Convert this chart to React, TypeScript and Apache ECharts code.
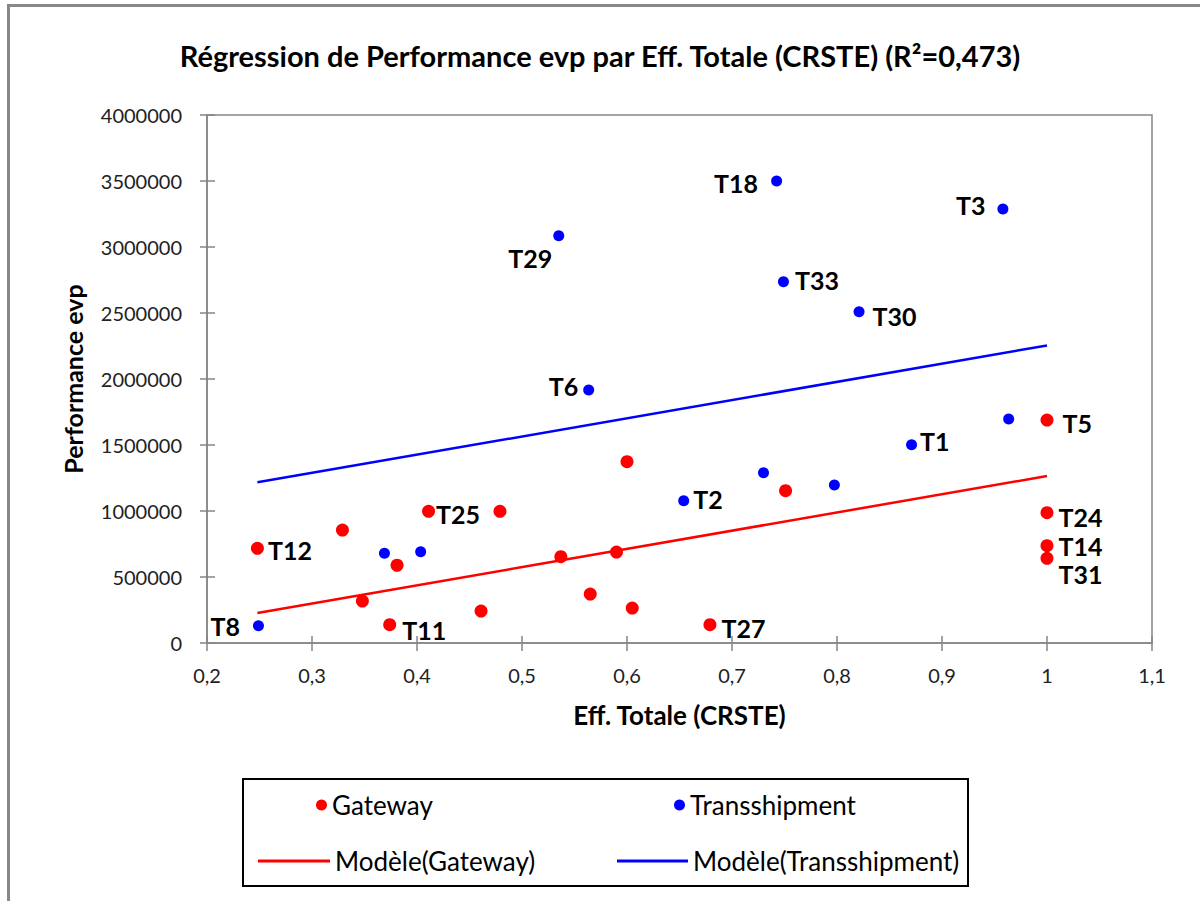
import React, { useEffect, useRef } from "react";
import * as echarts from "echarts";

// Gateway terminals: efficiency (CRSTE) and performance (evp)
const gatewayNames = ["T12", "", "", "", "T11", "T25", "", "", "", "", "", "", "", "T27", "", "T5", "T24", "T14", "T31"];
const gatewayEff = [0.248, 0.329, 0.348, 0.381, 0.374, 0.411, 0.479, 0.461, 0.537, 0.565, 0.59, 0.6, 0.605, 0.679, 0.751, 1.0, 1.0, 1.0, 1.0];
const gatewayPerf = [717000, 856000, 318000, 589000, 139000, 998000, 998000, 242000, 654000, 371000, 689000, 1374000, 265000, 139000, 1154000, 1689000, 987000, 737000, 642000];

// Transshipment terminals
const transNames = ["T8", "", "", "T6", "T29", "T18", "T3", "T33", "T30", "", "T1", "", "", "T2"];
const transEff = [0.249, 0.369, 0.4035, 0.5635, 0.535, 0.7425, 0.958, 0.749, 0.821, 0.9635, 0.871, 0.73, 0.7975, 0.654];
const transPerf = [131000, 680000, 692000, 1917000, 3086000, 3500000, 3288000, 2737000, 2510000, 1697000, 1502000, 1290000, 1197000, 1078000];

// Fitted models (endpoints of each regression line)
const modelEff = [0.248, 1.0];
const gatewayModel = [227000, 1265000];
const transModel = [1217000, 2254000];

// Axis ranges
const xMin = 0.2, xMax = 1.1, xStep = 0.1;
const yMin = 0, yMax = 4000000, yStep = 500000;

const TITLE = "Régression de Performance evp par Eff. Totale (CRSTE) (R²=0,473)";
const FONT = "Lato";

// Where each terminal label sits relative to its point
const labelPlacement: Record<string, { position: string; distance: number; offset?: number[] }> = {
  T8: { position: "left", distance: 13 },
  T12: { position: "right", distance: 4, offset: [0, 2] },
  T11: { position: "right", distance: 6, offset: [0, 5] },
  T25: { position: "right", distance: 1, offset: [0, 3] },
  T27: { position: "right", distance: 5, offset: [0, 3] },
  T29: { position: "left", distance: 1, offset: [0, 22] },
  T6: { position: "left", distance: 5, offset: [0, -4] },
  T18: { position: "left", distance: 13, offset: [0, 2] },
  T3: { position: "left", distance: 12, offset: [0, -4] },
  T33: { position: "right", distance: 6, offset: [0, -2] },
  T30: { position: "right", distance: 8, offset: [0, 4] },
  T2: { position: "right", distance: 4, offset: [0, -2] },
  T1: { position: "right", distance: 3, offset: [0, -4] },
  T5: { position: "right", distance: 9, offset: [0, 3] },
  T24: { position: "right", distance: 5, offset: [0, 4] },
  T14: { position: "right", distance: 5, offset: [0, 0] },
  T31: { position: "right", distance: 5, offset: [0, 16] },
};

function points(names: string[], xs: number[], ys: number[]) {
  return xs.map((x, i) => {
    const name = names[i];
    const place = name ? labelPlacement[name] : undefined;
    return {
      name,
      value: [x, ys[i]],
      label: place
        ? { show: true, position: place.position, distance: place.distance, offset: place.offset || [0, 0] }
        : { show: false },
    };
  });
}

const fmtEff = (v: number) => String(Math.round(v * 10) / 10).replace(".", ",");

export default function App() {
  const ref = useRef<HTMLDivElement>(null);

  useEffect(() => {
    document.body.style.margin = "0";
    const chart = echarts.init(ref.current!, null, { renderer: "svg" });
    const axisGray = "#868686";
    const pointLabel = {
      formatter: "{b}",
      color: "#000",
      fontFamily: FONT,
      fontWeight: "bold",
      fontSize: 25,
    };
    const legendText = { fontSize: 26, color: "#000", fontFamily: FONT };

    const baseX = { type: "value", min: xMin, max: xMax, interval: xStep, position: "bottom", splitLine: { show: false } };
    const baseY = { type: "value", min: yMin, max: yMax, interval: yStep, position: "left", splitLine: { show: false } };

    chart.setOption({
      animation: false,
      backgroundColor: "#fff",
      textStyle: { fontFamily: FONT },
      title: {
        text: TITLE,
        left: "center",
        top: 36,
        textStyle: { fontFamily: FONT, fontWeight: "bold", fontSize: 29, color: "#000" },
      },
      grid: { left: 207, right: 48, top: 115, bottom: 258, show: true, borderColor: axisGray, borderWidth: 1.5, backgroundColor: "transparent" },
      xAxis: [
        {
          ...baseX,
          name: "Eff. Totale (CRSTE)",
          nameLocation: "middle",
          nameGap: 59,
          nameTextStyle: { fontFamily: FONT, fontWeight: "bold", fontSize: 26, color: "#000" },
          axisLine: { show: true, lineStyle: { color: axisGray, width: 1.5 } },
          axisTick: { show: true, inside: false, length: 8, lineStyle: { color: axisGray, width: 1.5 } },
          axisLabel: { formatter: fmtEff, fontSize: 20, color: "#222", margin: 22, fontFamily: FONT },
        },
        {
          ...baseX,
          axisLine: { show: false },
          axisTick: { show: true, inside: true, length: 7, lineStyle: { color: axisGray, width: 1.5 } },
          axisLabel: { show: false },
        },
      ],
      yAxis: [
        {
          ...baseY,
          name: "Performance evp",
          nameLocation: "middle",
          nameRotate: 90,
          nameGap: 122,
          nameTextStyle: { fontFamily: FONT, fontWeight: "bold", fontSize: 25, color: "#000" },
          axisLine: { show: true, lineStyle: { color: axisGray, width: 1.5 } },
          axisTick: { show: true, inside: false, length: 7, lineStyle: { color: axisGray, width: 1.5 } },
          axisLabel: { formatter: (v: number) => String(v), fontSize: 20, color: "#222", margin: 25, fontFamily: FONT },
        },
        {
          ...baseY,
          axisLine: { show: false },
          axisTick: { show: true, inside: true, length: 8, lineStyle: { color: axisGray, width: 1.5 } },
          axisLabel: { show: false },
        },
      ],
      legend: [
        { data: ["Gateway"], left: 316, top: 792, padding: 0, itemWidth: 11, itemHeight: 12, textStyle: legendText, selectedMode: false },
        { data: [{ name: "Modèle(Gateway)", icon: "rect" }], left: 258, top: 848, padding: 0, itemWidth: 72, itemHeight: 3, textStyle: legendText, selectedMode: false },
        { data: ["Transshipment"], left: 674, top: 792, padding: 0, itemWidth: 11, itemHeight: 12, textStyle: legendText, selectedMode: false },
        { data: [{ name: "Modèle(Transshipment)", icon: "rect" }], left: 617, top: 848, padding: 0, itemWidth: 71, itemHeight: 3, textStyle: legendText, selectedMode: false },
      ],
      graphic: [
        // outer frame (top and left edges)
        { type: "line", shape: { x1: 7, y1: 5.5, x2: 1200, y2: 5.5 }, style: { stroke: "#888", lineWidth: 3 }, silent: true },
        { type: "line", shape: { x1: 8.5, y1: 4, x2: 8.5, y2: 901 }, style: { stroke: "#888", lineWidth: 3 }, silent: true },
        // legend box
        { type: "rect", shape: { x: 243, y: 779, width: 725, height: 107 }, style: { fill: "none", stroke: "#000", lineWidth: 2 }, silent: true, z: -1 },
      ],
      series: [
        {
          name: "Modèle(Gateway)",
          type: "line",
          symbol: "none",
          data: modelEff.map((x, i) => [x, gatewayModel[i]]),
          lineStyle: { color: "#ff0000", width: 2.5 },
          itemStyle: { color: "#ff0000" },
          z: 1,
        },
        {
          name: "Modèle(Transshipment)",
          type: "line",
          symbol: "none",
          data: modelEff.map((x, i) => [x, transModel[i]]),
          lineStyle: { color: "#0000ff", width: 2.5 },
          itemStyle: { color: "#0000ff" },
          z: 1,
        },
        {
          name: "Gateway",
          type: "scatter",
          symbol: "circle",
          symbolSize: 13,
          itemStyle: { color: "#ff0000", opacity: 1 },
          label: pointLabel,
          data: points(gatewayNames, gatewayEff, gatewayPerf),
          z: 3,
        },
        {
          name: "Transshipment",
          type: "scatter",
          symbol: "circle",
          symbolSize: 11,
          itemStyle: { color: "#0000ff", opacity: 1 },
          label: pointLabel,
          data: points(transNames, transEff, transPerf),
          z: 3,
        },
      ],
    });
    return () => chart.dispose();
  }, []);

  return <div ref={ref} style={{ width: 1200, height: 901 }} />;
}
